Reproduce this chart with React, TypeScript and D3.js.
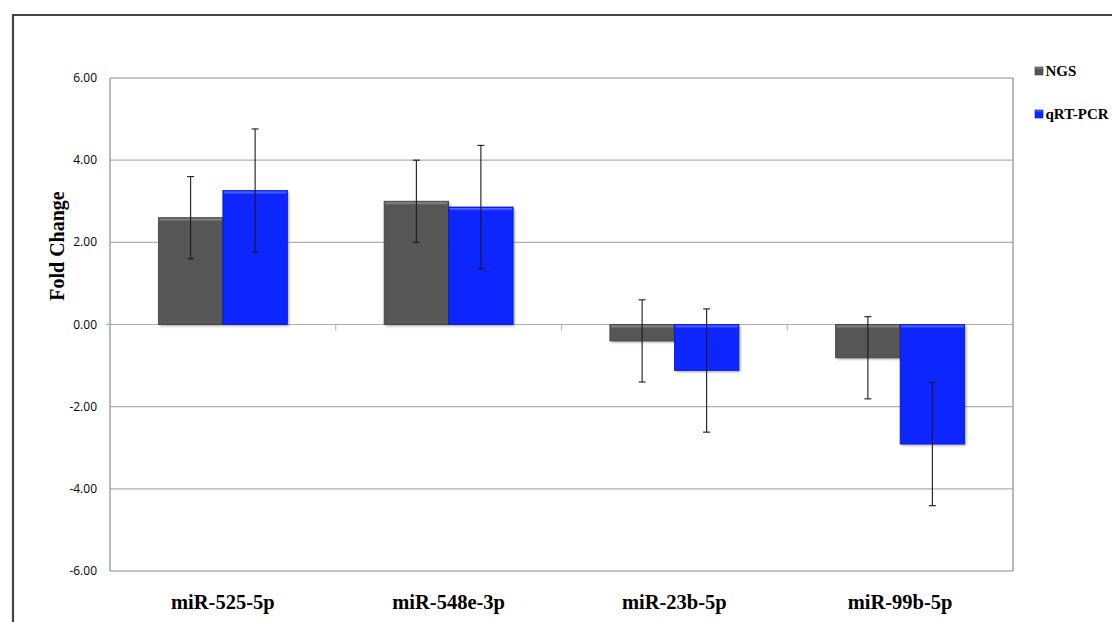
import React from "react";
import * as d3 from "d3";

const categories = ["miR-525-5p", "miR-548e-3p", "miR-23b-5p", "miR-99b-5p"];
const seriesNames = ["NGS", "qRT-PCR"];
const ngsValues = [2.6, 3.0, -0.4, -0.81];
const qpcrValues = [3.26, 2.86, -1.12, -2.91];
const ngsErrors = [1.0, 1.0, 1.0, 1.0];
const qpcrErrors = [1.5, 1.5, 1.5, 1.5];
const yTicks = [6, 4, 2, 0, -2, -4, -6];

const W = 1112;
const H = 622;
const plot = { left: 110, right: 1013, top: 78, bottom: 571 };
const colors = ["#565656", "#0A28FF"];
const edgeColors = ["#3e3e3e", "#0018c8"];

export default function App() {
  const y = d3.scaleLinear().domain([-6, 6]).range([plot.bottom, plot.top]);
  const x0 = d3
    .scaleBand<string>()
    .domain(categories)
    .range([plot.left, plot.right])
    .paddingInner(0)
    .paddingOuter(0);
  const x1 = d3
    .scaleBand<string>()
    .domain(seriesNames)
    .range([0, x0.bandwidth()])
    .paddingOuter(0.75)
    .paddingInner(0);

  const values = [ngsValues, qpcrValues];
  const errors = [ngsErrors, qpcrErrors];
  const bevel = 3;
  const serif = "'Liberation Serif', 'Times New Roman', serif";

  return (
    <svg
      width={W}
      height={H}
      style={{ position: "fixed", left: 0, top: 0, display: "block", background: "#fff" }}
    >
      <defs>
        <filter id="shadow" x="-20%" y="-20%" width="140%" height="140%">
          <feDropShadow dx="1.5" dy="1.5" stdDeviation="1.2" floodColor="#000" floodOpacity="0.35" />
        </filter>
        <linearGradient id="sheen" x1="0" y1="0" x2="0" y2="1">
          <stop offset="0" stopColor="#fff" stopOpacity="0.35" />
          <stop offset="1" stopColor="#fff" stopOpacity="0" />
        </linearGradient>
      </defs>

      {/* outer frame */}
      <line x1={12} y1={15} x2={W} y2={15} stroke="#444" strokeWidth={2.2} />
      <line x1={13} y1={14} x2={13} y2={H} stroke="#444" strokeWidth={2.2} />

      {/* gridlines */}
      {yTicks.map((t) => (
        <line
          key={t}
          x1={plot.left}
          x2={plot.right}
          y1={y(t)}
          y2={y(t)}
          stroke={t === 6 || t === -6 ? "#8c8c8c" : "#b0b0b0"}
          strokeWidth={1.2}
        />
      ))}
      {/* plot frame sides */}
      <line x1={plot.left} x2={plot.left} y1={plot.top} y2={plot.bottom} stroke="#8c8c8c" strokeWidth={1.2} />
      <line x1={plot.right} x2={plot.right} y1={plot.top} y2={plot.bottom} stroke="#a0a0a0" strokeWidth={1.5} />

      {/* category ticks on the zero line */}
      {categories.slice(1).map((c) => (
        <line
          key={c}
          x1={x0(c)!}
          x2={x0(c)!}
          y1={y(0)}
          y2={y(0) + 6}
          stroke="#b0b0b0"
          strokeWidth={1}
        />
      ))}
      <line x1={plot.left - 4} x2={plot.left} y1={y(0)} y2={y(0)} stroke="#b0b0b0" strokeWidth={1} />

      {/* y tick labels */}
      {yTicks.map((t) => (
        <text
          key={t}
          x={97}
          y={y(t) + 4}
          textAnchor="end"
          fontFamily="'Open Sans', 'Liberation Sans', sans-serif"
          fontSize={12}
          fill="#000"
        >
          {t.toFixed(2)}
        </text>
      ))}

      {/* bars */}
      {categories.map((c, i) =>
        seriesNames.map((s, j) => {
          const v = values[j][i];
          const bx = x0(c)! + x1(s)!;
          const bw = x1.bandwidth();
          const top = y(Math.max(0, v));
          const bh = Math.abs(y(v) - y(0));
          return (
            <g key={c + s}>
              <rect x={bx} y={top} width={bw} height={bh} fill={colors[j]} filter="url(#shadow)" />
              <rect x={bx} y={top} width={bw} height={bh} fill="none" stroke={edgeColors[j]} strokeWidth={0.8} />
              <rect x={bx + 1} y={top + 1} width={bw - 2} height={Math.min(bevel, bh)} fill="url(#sheen)" />
            </g>
          );
        })
      )}

      {/* error bars */}
      {categories.map((c, i) =>
        seriesNames.map((s, j) => {
          const v = values[j][i];
          const e = errors[j][i];
          const cx = x0(c)! + x1(s)! + x1.bandwidth() / 2;
          const yt = y(v + e);
          const yb = y(v - e);
          return (
            <g key={"e" + c + s} stroke="#1a1a1a" strokeWidth={1.1}>
              <line x1={cx} x2={cx} y1={yt} y2={yb} />
              <line x1={cx - 3.5} x2={cx + 3.5} y1={yt} y2={yt} />
              <line x1={cx - 3.5} x2={cx + 3.5} y1={yb} y2={yb} />
            </g>
          );
        })
      )}

      {/* category labels */}
      {categories.map((c) => (
        <text
          key={c}
          x={x0(c)! + x0.bandwidth() / 2}
          y={609}
          textAnchor="middle"
          fontFamily={serif}
          fontWeight="bold"
          fontSize={20.5}
          fill="#000"
        >
          {c}
        </text>
      ))}

      {/* y axis title */}
      <text
        transform={`translate(64, 246) rotate(-90)`}
        textAnchor="middle"
        fontFamily={serif}
        fontWeight="bold"
        fontSize={20}
        fill="#000"
      >
        Fold Change
      </text>

      {/* legend */}
      {seriesNames.map((s, j) => (
        <g key={s} transform={`translate(1035, ${67 + j * 43})`}>
          <rect x={0} y={0} width={8} height={8} fill={colors[j]} stroke={edgeColors[j]} strokeWidth={0.6} />
          <rect x={0.5} y={0.5} width={7} height={2} fill="url(#sheen)" />
          <text x={10.5} y={9} fontFamily={serif} fontWeight="bold" fontSize={15} fill="#000">
            {s}
          </text>
        </g>
      ))}
    </svg>
  );
}
